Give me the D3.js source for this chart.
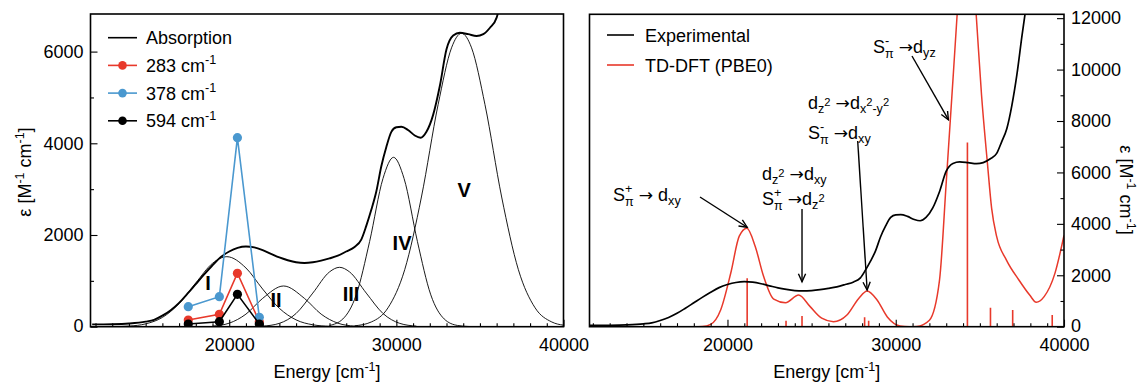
<!DOCTYPE html>
<html>
<head>
<meta charset="utf-8">
<script src="https://cdn.jsdelivr.net/npm/d3@7"></script>
<style>
  body { margin: 0; background: #fff; }
  svg { font-family: "Liberation Sans", Arial, sans-serif; }
  text { fill: #000; white-space: pre; }
</style>
</head>
<body>
<svg id="chart" width="1143" height="385"></svg>
<script>
// ---------- data ----------
// Measured absorption / experimental spectrum [energy cm^-1, epsilon M^-1 cm^-1]
const absorption = [
  [11800, 50], [13000, 55], [14000, 70], [15000, 110], [15500, 150], [16000, 240],
  [16500, 360], [17000, 520], [17500, 720], [18000, 930], [18500, 1140], [19000, 1340],
  [19500, 1520], [20000, 1640], [20500, 1720], [21000, 1750], [21500, 1730], [22000, 1670],
  [22500, 1590], [23000, 1510], [23500, 1450], [24000, 1405], [24500, 1390], [25000, 1405],
  [25500, 1440], [26000, 1490], [26500, 1550], [27000, 1640], [27500, 1740], [27900, 1900],
  [28200, 2200], [28500, 2550], [28800, 2950], [29100, 3500], [29400, 3920], [29700, 4250],
  [30000, 4350], [30300, 4360], [30700, 4290], [31100, 4170], [31450, 4120], [31800, 4250],
  [32200, 4620], [32600, 5250], [33000, 6050], [33400, 6350], [33800, 6410], [34300, 6380],
  [34800, 6340], [35200, 6380], [35600, 6520], [36000, 6740], [36300, 7200], [36600, 7700],
  [36900, 8600], [37200, 9800], [37500, 11300], [37800, 12700], [38100, 14000]
];

// Fitted component bands I–V
const bandI = [
  [13000, 3], [14000, 14], [15000, 62], [16000, 202], [17000, 503], [18000, 955], [19000, 1382],
  [19860, 1527], [21000, 1281], [22000, 821], [23000, 401], [24000, 149], [25000, 42],
  [26000, 9], [27000, 1]
];
const bandII = [
  [19000, 13], [20000, 77], [21000, 274], [22000, 618], [23250, 888], [24500, 618],
  [25500, 274], [26500, 77], [27500, 13], [28500, 1]
];
const bandIII = [
  [22000, 12], [23000, 73], [24000, 288], [25000, 733], [26000, 1195], [26600, 1295],
  [27200, 1195], [28200, 733], [29200, 288], [30200, 73], [31200, 12]
];
const bandIV = [
  [26000, 27], [26800, 169], [27600, 695], [28400, 1858], [29200, 3233], [29830, 3694],
  [30460, 3233], [31260, 1858], [32060, 695], [32860, 169], [33660, 27], [34400, 3]
];
const bandV = [
  [27500, 19], [28500, 103], [29500, 412], [30500, 1244], [31500, 2829], [32500, 4847],
  [33300, 6082], [33900, 6400], [34500, 6082], [35300, 4847], [36300, 2829], [37300, 1244],
  [38300, 412], [39300, 103], [40000, 33]
];
const bandLabels = ["I", "II", "III", "IV", "V"];
const bandLabelPos = [[18730, 950], [22800, 580], [27290, 710], [30340, 1830], [34050, 2980]];

// Resonance Raman excitation profiles (excitation energy, intensity)
const excitation = [17550, 19410, 20490, 21800];
const prof283 = [146, 270, 1165, 109];
const prof378 = [436, 654, 4122, 205];
const prof594 = [59, 109, 707, 59];
const profileNames = ["283 cm", "378 cm", "594 cm"];

// TD-DFT (PBE0) simulated spectrum and transitions
const tddft = [
  [11800, 0], [18000, 0], [18500, 8], [19000, 90], [19600, 660], [20200, 2100], [20700, 3520],
  [21150, 3830], [21650, 3120], [22150, 1950], [22750, 1070], [23450, 930], [24230, 1230],
  [24900, 790], [25600, 330], [26300, 195], [27100, 455], [27800, 1100], [28300, 1390],
  [28900, 1030], [29500, 380], [30250, 30], [30800, 0], [31250, 8], [32000, 250], [32600, 1800],
  [33000, 5600], [33400, 9600], [33650, 12150], [33900, 14800], [34200, 16000], [34500, 14700],
  [34780, 12150], [35100, 9000], [35450, 6350], [35700, 4600], [36000, 3500], [36580, 2590],
  [37320, 1815], [37960, 1230], [38350, 950], [38820, 1170], [39460, 2075], [40000, 3550]
];
const sticks = [
  [21170, 1880], [23480, 233], [24430, 416], [28150, 365], [28390, 233],
  [34260, 7160], [35630, 739], [36950, 649], [39300, 455]
];

const xTicksMajor = [20000, 30000, 40000];
const yTicksLeft = [0, 2000, 4000, 6000];
const yTicksRight = [0, 2000, 4000, 6000, 8000, 10000, 12000];

// ---------- setup ----------
const svg = d3.select("#chart");
const FS = 18;
const RED = "#e8392b", BLUE = "#4a98cf", BLACK = "#000";

const L = { x0: 90.5, x1: 563.5, y0: 14, y1: 326.7 };
const R = { x0: 589.5, x1: 1064, y0: 14.3, y1: 326.7 };

const xL = d3.scaleLinear().domain([11700, 40000]).range([L.x0, L.x1]);
const yL = d3.scaleLinear().domain([0, 6820]).range([L.y1, L.y0]);
const xR = d3.scaleLinear().domain([11800, 40000]).range([R.x0, R.x1]);
const yR = d3.scaleLinear().domain([0, 12150]).range([R.y1, R.y0]);

const defs = svg.append("defs");
defs.append("clipPath").attr("id", "clipL").append("rect")
  .attr("x", L.x0).attr("y", L.y0).attr("width", L.x1 - L.x0).attr("height", L.y1 - L.y0);
defs.append("clipPath").attr("id", "clipR").append("rect")
  .attr("x", R.x0).attr("y", R.y0).attr("width", R.x1 - R.x0).attr("height", R.y1 - R.y0);
defs.append("marker").attr("id", "head").attr("viewBox", "-10 -6 12 12")
  .attr("refX", 0).attr("refY", 0).attr("markerWidth", 12).attr("markerHeight", 12)
  .attr("markerUnits", "userSpaceOnUse").attr("orient", "auto")
  .append("path").attr("d", "M-8,-3.6 L0,0 L-8,3.6").attr("fill", "none")
  .attr("stroke", "#000").attr("stroke-width", 1.4);

const lineOf = (xs, ys) => d3.line().x(d => xs(d[0])).y(d => ys(d[1])).curve(d3.curveMonotoneX);

// rich text in one <text>: parts = [[string, mode]] with mode n | arr | sup | sub | stack | zsup
function rich(g, x, y, parts, fs) {
  const t = g.append("text").attr("font-size", fs).attr("xml:space", "preserve");
  let cx = x, lastX = x;
  parts.forEach(([s, mode]) => {
    let size = fs, px = cx, py = y;
    if (mode === "sup") { size = fs * 0.7; py = y - fs * 0.42; }
    if (mode === "sub") { size = fs * 0.7; py = y + fs * 0.2; }
    if (mode === "stack") { size = fs * 0.7; py = y + fs * 0.25; px = lastX; }
    if (mode === "zsup") { size = fs * 0.62; py = y - fs * 0.18; }
    const ts = t.append("tspan").attr("x", px).attr("y", py).attr("font-size", size).text(s);
    if (mode === "arr") ts.attr("font-family", "'DejaVu Sans', sans-serif").attr("font-size", fs * 0.95);
    const w = ts.node().getComputedTextLength();
    if (mode === "stack") cx = Math.max(cx, px + w);
    else { lastX = px; cx = px + w; }
  });
  return cx;
}

function axes(g, xs, ys, P, side, yTicks, yMax) {
  const minorX = d3.range(12000, 40001, 1000).filter(v => v >= xs.domain()[0] && !xTicksMajor.includes(v));
  const gx = g.append("g").attr("transform", `translate(0,${P.y1})`);
  gx.call(d3.axisBottom(xs).tickValues(xTicksMajor).tickFormat(d3.format("d"))
    .tickSizeInner(-7).tickSizeOuter(0).tickPadding(12));
  gx.append("g").call(d3.axisBottom(xs).tickValues(minorX).tickFormat("")
    .tickSizeInner(-3.5).tickSizeOuter(0));
  const minorY = d3.range(1000, yMax, 2000);
  const axisFn = side === "left" ? d3.axisLeft : d3.axisRight;
  const gy = g.append("g").attr("transform", `translate(${side === "left" ? P.x0 : P.x1},0)`);
  gy.call(axisFn(ys).tickValues(yTicks).tickFormat(d3.format("d"))
    .tickSizeInner(-7).tickSizeOuter(0).tickPadding(7));
  gy.append("g").call(axisFn(ys).tickValues(minorY).tickFormat("")
    .tickSizeInner(-3.5).tickSizeOuter(0));
  // lift the zero label a touch so it clears the energy labels below
  gy.selectAll(".tick text").filter(d => d === 0).attr("dy", "0.25em");
  g.selectAll(".domain").remove();
  g.selectAll(".tick line").attr("stroke", "#000").attr("stroke-width", 1.1);
  g.selectAll(".tick text").attr("font-size", FS).attr("font-family", "'Liberation Sans', Arial, sans-serif").attr("fill", "#000");
  g.append("rect").attr("x", P.x0).attr("y", P.y0).attr("width", P.x1 - P.x0).attr("height", P.y1 - P.y0)
    .attr("fill", "none").attr("stroke", "#000").attr("stroke-width", 1.6);
}

function unitTitle(g, transform, x, y, prefix) {
  const t = g.append("text").attr("text-anchor", "middle").attr("font-size", FS);
  if (transform) t.attr("transform", transform); else t.attr("x", x).attr("y", y);
  t.append("tspan").text(prefix);
  t.append("tspan").attr("dy", -7).attr("font-size", 12.5).text("-1");
  if (prefix.startsWith("ε")) {
    t.append("tspan").attr("dy", 7).text(" cm");
    t.append("tspan").attr("dy", -7).attr("font-size", 12.5).text("-1");
  }
  t.append("tspan").attr("dy", 7).text("]");
}

// ---------- left panel ----------
const gL = svg.append("g");
const plotL = gL.append("g").attr("clip-path", "url(#clipL)");
[bandI, bandII, bandIII, bandIV, bandV].forEach(b => {
  plotL.append("path").attr("d", lineOf(xL, yL)(b)).attr("fill", "none")
    .attr("stroke", "#000").attr("stroke-width", 0.9);
});
plotL.append("path").attr("d", lineOf(xL, yL)(absorption)).attr("fill", "none")
  .attr("stroke", "#000").attr("stroke-width", 1.9);

bandLabels.forEach((lab, i) => {
  gL.append("text").attr("x", xL(bandLabelPos[i][0])).attr("y", yL(bandLabelPos[i][1]))
    .attr("dy", "0.36em").attr("text-anchor", "middle").attr("font-size", 20)
    .attr("font-weight", "bold").text(lab);
});

const profiles = [[prof283, RED], [prof378, BLUE], [prof594, BLACK]];
profiles.forEach(([vals, col]) => {
  const pts = excitation.map((e, i) => [e, vals[i]]);
  plotL.append("path").attr("d", d3.line().x(d => xL(d[0])).y(d => yL(d[1]))(pts))
    .attr("fill", "none").attr("stroke", col).attr("stroke-width", 1.6);
  plotL.selectAll(null).data(pts).enter().append("circle")
    .attr("cx", d => xL(d[0])).attr("cy", d => yL(d[1])).attr("r", 4.6).attr("fill", col);
});

axes(gL, xL, yL, L, "left", yTicksLeft, 6820);

// legend (left)
const legL = gL.append("g");
const legRows = [["Absorption", BLACK, false], [profileNames[0], RED, true], [profileNames[1], BLUE, true], [profileNames[2], BLACK, true]];
legRows.forEach(([name, col, mk], i) => {
  const cy = 37.7 + i * 27.7;
  legL.append("line").attr("x1", 108).attr("x2", 137).attr("y1", cy).attr("y2", cy)
    .attr("stroke", col).attr("stroke-width", 1.6);
  if (mk) legL.append("circle").attr("cx", 122.5).attr("cy", cy).attr("r", 4.3).attr("fill", col);
  if (mk) rich(legL, 146, cy + 6.5, [[name, "n"], ["-1", "sup"]], FS);
  else rich(legL, 146, cy + 6.5, [[name, "n"]], FS);
});

unitTitle(gL, "translate(31,172) rotate(-90)", 0, 0, "ε [M");
unitTitle(gL, null, (L.x0 + L.x1) / 2, 378, "Energy [cm");

// ---------- right panel ----------
const gR = svg.append("g");
const plotR = gR.append("g").attr("clip-path", "url(#clipR)");
plotR.selectAll(null).data(sticks).enter().append("line")
  .attr("x1", d => xR(d[0])).attr("x2", d => xR(d[0]))
  .attr("y1", yR(0)).attr("y2", d => yR(d[1]))
  .attr("stroke", RED).attr("stroke-width", 1.6);
plotR.append("path").attr("d", lineOf(xR, yR)(tddft)).attr("fill", "none")
  .attr("stroke", RED).attr("stroke-width", 1.5);
plotR.append("path").attr("d", lineOf(xR, yR)(absorption)).attr("fill", "none")
  .attr("stroke", "#000").attr("stroke-width", 1.7);

axes(gR, xR, yR, R, "right", yTicksRight, 12150);

// legend (right)
const legR = gR.append("g");
[["Experimental", BLACK], ["TD-DFT (PBE0)", RED]].forEach(([name, col], i) => {
  const cy = 35 + i * 30;
  legR.append("line").attr("x1", 607).attr("x2", 634).attr("y1", cy).attr("y2", cy)
    .attr("stroke", col).attr("stroke-width", 1.6);
  legR.append("text").attr("x", 645).attr("y", cy + 6.5).attr("font-size", FS).text(name);
});

// transition assignments
const ann = gR.append("g");
rich(ann, 613, 201, [["S", "n"], ["+", "sup"], ["π", "stack"], [" ", "n"], ["→", "arr"], [" d", "n"], ["xy", "sub"]], FS);
rich(ann, 762, 180, [["d", "n"], ["z", "sub"], ["2", "zsup"], [" ", "n"], ["→", "arr"], ["d", "n"], ["xy", "sub"]], FS);
rich(ann, 762, 205, [["S", "n"], ["+", "sup"], ["π", "stack"], [" ", "n"], ["→", "arr"], ["d", "n"], ["z", "sub"], ["2", "zsup"]], FS);
rich(ann, 808, 109, [["d", "n"], ["z", "sub"], ["2", "zsup"], [" ", "n"], ["→", "arr"], ["d", "n"], ["x", "sub"], ["2", "zsup"], ["-y", "sub"], ["2", "zsup"]], FS);
rich(ann, 808, 139, [["S", "n"], ["-", "sup"], ["π", "stack"], [" ", "n"], ["→", "arr"], ["d", "n"], ["xy", "sub"]], FS);
rich(ann, 873, 53, [["S", "n"], ["-", "sup"], ["π", "stack"], [" ", "n"], ["→", "arr"], ["d", "n"], ["yz", "sub"]], FS);

const arrows = [
  [[700, 197], [xR(21170), yR(3830) - 1]],
  [[xR(24430), 209], [xR(24430), yR(1750)]],
  [[857.7, 141], [xR(28300), yR(1390) - 1]],
  [[912, 56], [xR(33130), yR(8050)]]
];
arrows.forEach(([a, b]) => {
  ann.append("line").attr("x1", a[0]).attr("y1", a[1]).attr("x2", b[0]).attr("y2", b[1])
    .attr("stroke", "#000").attr("stroke-width", 1.4).attr("marker-end", "url(#head)");
});

unitTitle(gR, "translate(1120,190) rotate(90)", 0, 0, "ε [M");
unitTitle(gR, null, (R.x0 + R.x1) / 2, 378, "Energy [cm");
</script>
</body>
</html>
